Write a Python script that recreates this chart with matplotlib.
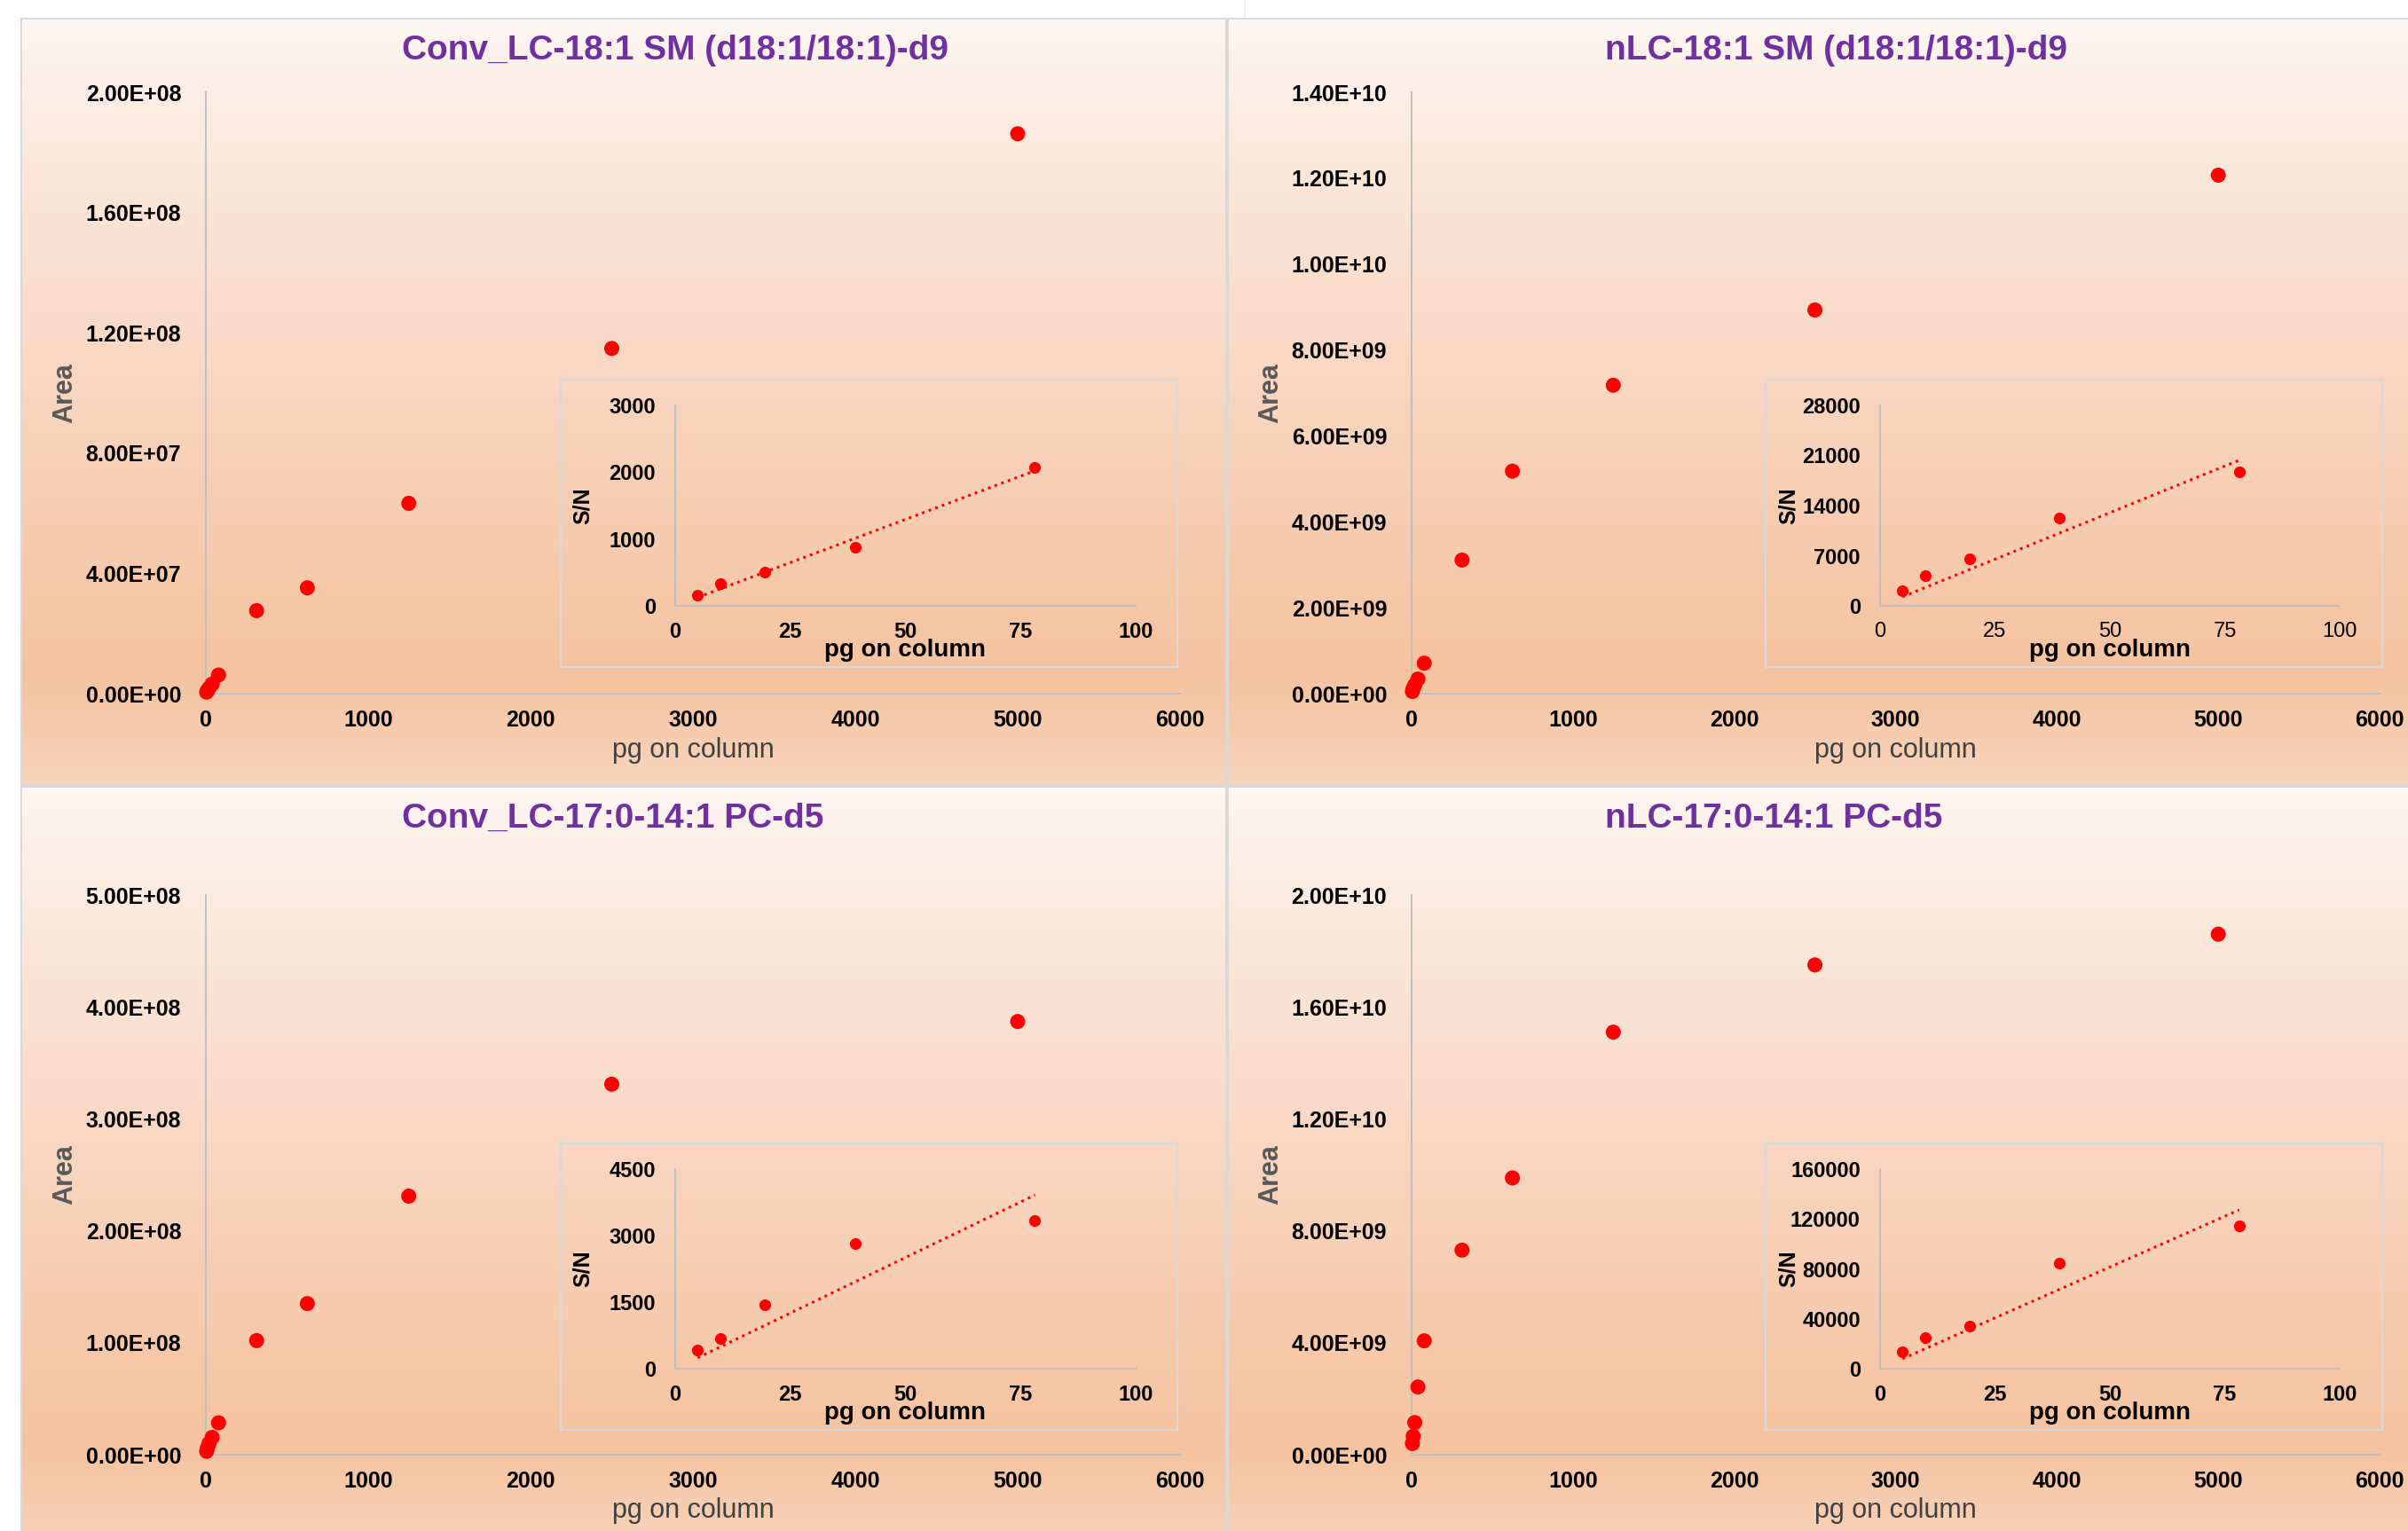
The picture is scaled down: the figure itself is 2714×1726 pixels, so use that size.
import numpy as np
import matplotlib
matplotlib.use("Agg")
import matplotlib.pyplot as plt
from matplotlib.ticker import FuncFormatter

plt.rcParams['font.family'] = ['Liberation Sans', 'DejaVu Sans']

# ---------------- data ----------------
titles = ["Conv_LC-18:1 SM (d18:1/18:1)-d9", "nLC-18:1 SM (d18:1/18:1)-d9",
          "Conv_LC-17:0-14:1 PC-d5", "nLC-17:0-14:1 PC-d5"]

x_main = [4.88, 9.77, 19.53, 39.06, 78.13, 312.5, 625, 1250, 2500, 5000]
area_conv_sm = [0.5e6, 1.0e6, 1.8e6, 3.2e6, 6.2e6, 2.76e7, 3.52e7, 6.33e7, 1.148e8, 1.862e8]
area_nlc_sm = [0.05e9, 0.12e9, 0.2e9, 0.34e9, 0.71e9, 3.11e9, 5.18e9, 7.18e9, 8.93e9, 1.207e10]
area_conv_pc = [3e6, 6e6, 1.0e7, 1.55e7, 2.85e7, 1.02e8, 1.35e8, 2.31e8, 3.31e8, 3.87e8]
area_nlc_pc = [0.4e9, 0.66e9, 1.15e9, 2.42e9, 4.07e9, 7.31e9, 9.89e9, 1.51e10, 1.75e10, 1.86e10]

x_sn = [4.88, 9.77, 19.53, 39.06, 78.13]
sn_conv_sm = [160, 333, 510, 874, 2077]
sn_nlc_sm = [2070, 4225, 6545, 12220, 18683]
sn_conv_pc = [421, 682, 1444, 2814, 3336]
sn_nlc_pc = [13789, 25200, 33996, 84398, 114829]

main_x_ticks = [0, 1000, 2000, 3000, 4000, 5000, 6000]
main_y_ticks = [np.arange(0, 2.01e8, 4e7), np.arange(0, 1.41e10, 2e9),
                np.arange(0, 5.01e8, 1e8), np.arange(0, 2.01e10, 4e9)]
inset_x_ticks = [0, 25, 50, 75, 100]
inset_y_ticks = [[0, 1000, 2000, 3000], [0, 7000, 14000, 21000, 28000],
                 [0, 1500, 3000, 4500], [0, 40000, 80000, 120000, 160000]]

areas = [area_conv_sm, area_nlc_sm, area_conv_pc, area_nlc_pc]
sns_ = [sn_conv_sm, sn_nlc_sm, sn_conv_pc, sn_nlc_pc]

# ---------------- figure ----------------
W, H = 2714, 1726
fig = plt.figure(figsize=(W / 100, H / 100), dpi=100)

# background gradient panels
bg = np.ones((H, W, 3))
def grad(n):
    f = [0, 0.2, 0.5, 0.86, 1.0]
    c = np.array([[253, 246, 242], [251, 231, 218], [248, 213, 192],
                  [245, 195, 160], [248, 212, 188]]) / 255.0
    t = np.linspace(0, 1, n)
    return np.stack([np.interp(t, f, c[:, k]) for k in range(3)], axis=1)
g = grad(862)
bg[22:884, 24:] = g[:, None, :]
bg[888:H, 24:] = g[:H - 888, None, :]
gray = np.array([217, 217, 217]) / 255.0
bg[21:23, 24:] = gray
bg[884:888, 24:] = gray
bg[21:, 1381:1385] = gray
bg[21:, 23:25] = gray
bg[0:21, 1402:1404] = np.array([240, 240, 240]) / 255.0
bax = fig.add_axes([0, 0, 1, 1], zorder=-10)
bax.imshow(bg, aspect='auto', interpolation='nearest', extent=[0, W, H, 0])
bax.set_xlim(0, W); bax.set_ylim(H, 0)
bax.axis('off')

def px_axes(x0, y0, x1, y1):
    return fig.add_axes([x0 / W, 1 - y1 / H, (x1 - x0) / W, (y1 - y0) / H])

spine_c = '#bfbfbf'
main_boxes = [(232, 104, 1330, 782), (1591, 104, 2682, 782),
              (232, 1009, 1330, 1640), (1591, 1009, 2682, 1640)]
xlabel_y = [846, 846, 1703, 1703]
inset_frames = [(632, 428, 1327, 752), (1990, 428, 2685, 752),
                (632, 1289, 1327, 1612), (1990, 1289, 2685, 1612)]
inset_boxes = [(761, 457, 1280, 683), (2119, 457, 2637, 683),
               (761, 1318, 1280, 1543), (2119, 1318, 2637, 1543)]
title_pos = [(453, 57), (1809, 57), (453, 923), (1809, 923)]

sci = FuncFormatter(lambda v, p: "%.2E" % v)

for i in range(4):
    # main axes
    ax = px_axes(*main_boxes[i])
    ax.set_facecolor('none')
    ax.scatter(x_main, areas[i], s=150, color='#ff0000', edgecolors='none',
               clip_on=False, zorder=3)
    ax.set_xlim(0, 6000)
    ax.set_ylim(0, main_y_ticks[i][-1])
    ax.set_xticks(main_x_ticks)
    ax.set_yticks(main_y_ticks[i])
    ax.yaxis.set_major_formatter(sci)
    for s in ['top', 'right']:
        ax.spines[s].set_visible(False)
    for s in ['left', 'bottom']:
        ax.spines[s].set_color(spine_c)
        ax.spines[s].set_linewidth(1.4)
    ax.tick_params(length=0, labelsize=18)
    ax.tick_params(axis='y', pad=20)
    ax.tick_params(axis='x', pad=13)
    for lab in ax.get_xticklabels() + ax.get_yticklabels():
        lab.set_fontweight('bold')
    x0, y0, x1, y1 = main_boxes[i]
    ax.set_xlabel("pg on column", fontsize=22, color='#404040')
    ax.xaxis.set_label_coords(0.5, -(xlabel_y[i] - y1) / (y1 - y0))
    ax.xaxis.label.set_va('center')
    ax.set_ylabel("Area", fontsize=22, fontweight='bold', color='#595959')
    ax.yaxis.set_label_coords(-159 / (x1 - x0), 0.5)
    ax.yaxis.label.set_va('center')

    # title
    fig.text(title_pos[i][0] / W, 1 - title_pos[i][1] / H, titles[i], fontsize=28,
             fontweight='bold', color='#7030a0', ha='left', va='center')

    # inset frame
    fx0, fy0, fx1, fy1 = inset_frames[i]
    bax.add_patch(plt.Rectangle((fx0, fy0), fx1 - fx0, fy1 - fy0, fill=False,
                                edgecolor='#d9d9d9', linewidth=1.5))

    # inset axes
    ia = px_axes(*inset_boxes[i])
    ia.set_facecolor('none')
    xs = np.array(x_sn, dtype=float)
    ys = np.array(sns_[i], dtype=float)
    slope = np.sum(xs * ys) / np.sum(xs * xs)
    xl = np.array([xs[0], xs[-1]])
    ia.plot(xl, slope * xl, linestyle=(0, (1, 1.6)), color='#ff0000', linewidth=2.2, zorder=2)
    ia.plot(xs, ys, 'o', color='#ff0000', markersize=9.5, markeredgewidth=0, zorder=3,
            clip_on=False)
    ia.set_xlim(0, 100)
    ia.set_ylim(0, inset_y_ticks[i][-1])
    ia.set_xticks(inset_x_ticks)
    ia.set_yticks(inset_y_ticks[i])
    for s in ['top', 'right']:
        ia.spines[s].set_visible(False)
    for s in ['left', 'bottom']:
        ia.spines[s].set_color(spine_c)
        ia.spines[s].set_linewidth(1.4)
    ia.tick_params(length=0, labelsize=17)
    ia.tick_params(axis='y', pad=16)
    ia.tick_params(axis='x', pad=13)
    for lab in ia.get_yticklabels():
        lab.set_fontweight('bold')
    if i != 1:
        for lab in ia.get_xticklabels():
            lab.set_fontweight('bold')
    ia.set_xlabel("pg on column", fontsize=20, fontweight='bold')
    ia.xaxis.set_label_coords(0.5, -0.22)
    ia.xaxis.label.set_va('center')
    ia.set_ylabel("S/N", fontsize=18, fontweight='bold')
    ia.yaxis.set_label_coords(-0.20, 0.5)
    ia.yaxis.label.set_va('center')

fig.savefig("out.png", dpi=100)
